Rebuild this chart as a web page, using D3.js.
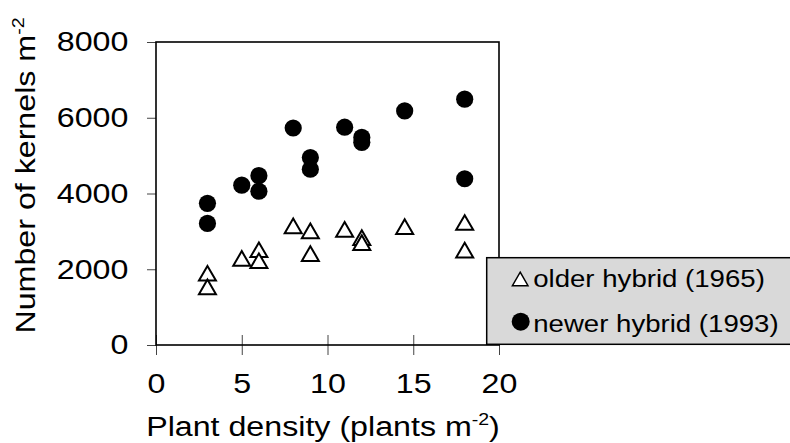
<!DOCTYPE html>
<html>
<head>
<meta charset="utf-8">
<script src="https://cdn.jsdelivr.net/npm/d3@7"></script>
<style>
  body { margin: 0; background: #fff; }
  text { font-family: "Liberation Sans", Arial, sans-serif; fill: #000; }
</style>
</head>
<body>
<div id="chart"></div>
<script>
// plant density (plants m-2) for each sample
const densityOld = [3, 3, 5, 6, 6, 8, 9, 9, 11, 12, 12, 14.5, 18, 18];
const kernelsOld = [1830, 1470, 2220, 2450, 2160, 3080, 2950, 2350, 2990, 2770, 2640, 3060, 3170, 2440];
const densityNew = [3, 3, 5, 6, 6, 8, 9, 9, 11, 12, 12, 14.5, 18, 18];
const kernelsNew = [3740, 3210, 4220, 4470, 4060, 5730, 4950, 4640, 5750, 5480, 5350, 6180, 6490, 4390];
const xTicks = [0, 5, 10, 15, 20];
const yTicks = [0, 2000, 4000, 6000, 8000];
const legendLabels = ["older hybrid (1965)", "newer hybrid (1993)"];

const width = 790;
const height = 443;
const margin = { top: 42, right: 291, bottom: 98, left: 156 };
const stretch = 1.15; // text in the original is a bit wide

const svg = d3.select("#chart")
    .append("svg")
    .attr("width", width)
    .attr("height", height);

const xScale = d3.scaleLinear()
    .domain([0, 20])
    .range([margin.left, width - margin.right]);

const yScale = d3.scaleLinear()
    .domain([0, 8000])
    .range([height - margin.bottom, margin.top]);

// Y axis
const yAxis = svg.append("g")
    .attr("transform", `translate(${margin.left}, 0)`)
    .call(d3.axisLeft(yScale).tickValues(yTicks).tickFormat(d3.format("d"))
        .tickSize(9).tickSizeOuter(0).tickPadding(15));
yAxis.select(".domain").remove();
yAxis.selectAll("line").attr("stroke", "#444");
yAxis.selectAll("text")
    .attr("font-size", "28px")
    .attr("font-family", "Liberation Sans, Arial, sans-serif")
    .attr("transform", `scale(${stretch},1)`);

// X axis, ticks cross the line
const xAxis = svg.append("g")
    .attr("transform", `translate(0, ${height - margin.bottom})`)
    .call(d3.axisBottom(xScale).tickValues(xTicks).tickFormat(d3.format("d"))
        .tickSize(10).tickSizeOuter(0).tickPadding(18));
xAxis.select(".domain").remove();
xAxis.selectAll("line").attr("y1", -10).attr("stroke", "#444");
xAxis.selectAll("text")
    .attr("font-size", "28px")
    .attr("font-family", "Liberation Sans, Arial, sans-serif")
    .attr("transform", `scale(${stretch},1)`);

// Plot frame
svg.append("rect")
    .attr("x", xScale(0))
    .attr("y", yScale(8000))
    .attr("width", xScale(20) - xScale(0))
    .attr("height", yScale(0) - yScale(8000))
    .attr("fill", "none")
    .attr("stroke", "#000")
    .attr("stroke-width", 1.6);

const triangle = d3.symbol().type(d3.symbolTriangle).size(125);

// Older hybrid - open triangles
svg.selectAll("path.old")
    .data(densityOld)
    .enter()
    .append("path")
    .attr("class", "old")
    .attr("d", triangle)
    .attr("transform", (d, i) => `translate(${xScale(d)}, ${yScale(kernelsOld[i])})`)
    .attr("fill", "#fff")
    .attr("stroke", "#000")
    .attr("stroke-width", 2);

// Newer hybrid - filled circles
svg.selectAll("circle.new")
    .data(densityNew)
    .enter()
    .append("circle")
    .attr("class", "new")
    .attr("cx", d => xScale(d))
    .attr("cy", (d, i) => yScale(kernelsNew[i]))
    .attr("r", 8.6)
    .attr("fill", "#000");

// Legend box (runs off the right edge)
const legend = svg.append("g").attr("transform", "translate(486.7, 257.7)");
legend.append("rect")
    .attr("width", 320)
    .attr("height", 86.6)
    .attr("fill", "#d9d9d9")
    .attr("stroke", "#000")
    .attr("stroke-width", 1.5);

legend.append("path")
    .attr("d", d3.symbol().type(d3.symbolTriangle).size(105))
    .attr("transform", "translate(33.5, 23.5)")
    .attr("fill", "#fff")
    .attr("stroke", "#000")
    .attr("stroke-width", 1.5);
legend.append("circle")
    .attr("cx", 34)
    .attr("cy", 64)
    .attr("r", 9)
    .attr("fill", "#000");

legend.selectAll("text")
    .data(legendLabels)
    .enter()
    .append("text")
    .attr("transform", (d, i) => `translate(46.5, ${29 + i * 45}) scale(${stretch},1)`)
    .attr("font-size", "24px")
    .text(d => d);

// X title
const xTitle = svg.append("text")
    .attr("transform", `translate(323, 436) scale(${stretch},1)`)
    .attr("text-anchor", "middle")
    .attr("font-size", "28px");
xTitle.append("tspan").text("Plant density (plants m");
xTitle.append("tspan").attr("font-size", "17px").attr("dy", -11).text("-2");
xTitle.append("tspan").attr("dy", 11).text(")");

// Y title
const yTitle = svg.append("text")
    .attr("transform", `translate(35, 175.5) rotate(-90) scale(${stretch},1)`)
    .attr("text-anchor", "middle")
    .attr("font-size", "28px");
yTitle.append("tspan").text("Number of kernels m");
yTitle.append("tspan").attr("font-size", "17px").attr("dy", -11).text("-2");
</script>
</body>
</html>
